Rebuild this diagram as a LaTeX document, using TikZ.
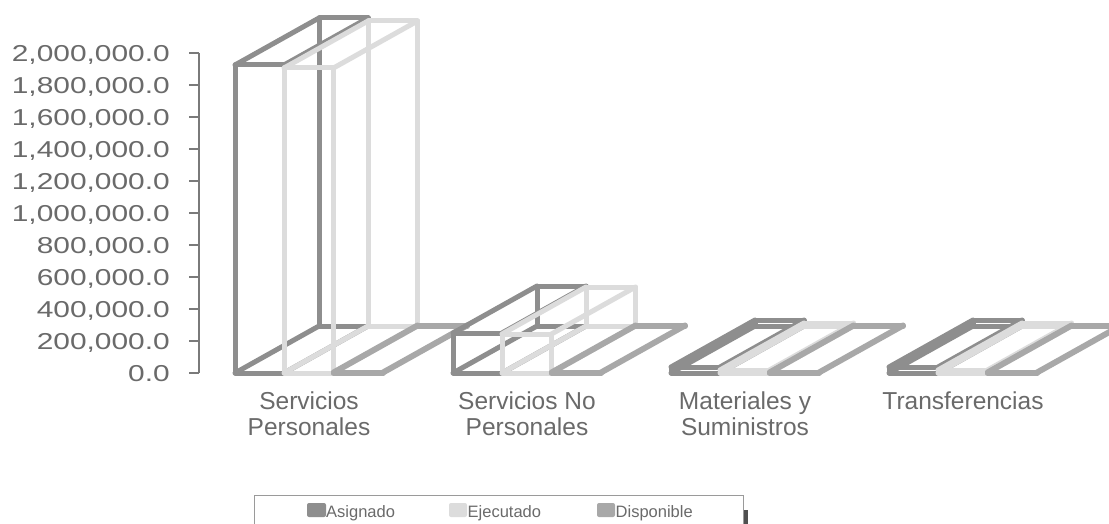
\documentclass[tikz,border=0pt]{standalone}
\usepackage{fontspec}
\setmainfont{Liberation Sans}
\newfontfamily\widefont[FakeStretch=1.30]{Liberation Sans}
\definecolor{asig}{HTML}{8E8E8E}
\definecolor{ejec}{HTML}{DCDCDC}
\definecolor{disp}{HTML}{A8A8A8}
\definecolor{axisc}{HTML}{7A7A7A}
\definecolor{txtc}{HTML}{6A6A6A}
\definecolor{legline}{HTML}{9A9A9A}
\definecolor{shadowc}{HTML}{505050}
\tikzset{
  barline/.style={line width=5pt, line join=round, line cap=round},
  axisline/.style={draw=axisc, line width=1.4pt},
  ylab/.style={anchor=base east, inner sep=0pt, text=txtc, font=\widefont\fontsize{23}{23}\selectfont},
  catlab/.style={anchor=north, inner sep=0pt, align=center, text=txtc, font=\fontsize{24.5}{26}\selectfont},
  leglab/.style={anchor=base west, inner sep=0pt, text=txtc, font=\fontsize{16.5}{17}\selectfont},
  swatch/.style={rounded corners=2pt, draw=none},
}
\newcommand\barwire[4]{%
  \pgfmathsetmacro\bwXa{#2}%
  \pgfmathsetmacro\bwXb{#2+#3}%
  \pgfmathsetmacro\bwYt{373-#4}%
  \pgfmathsetmacro\bwXc{#2+84}%
  \pgfmathsetmacro\bwXd{#2+#3+84}%
  \pgfmathsetmacro\bwYb{326-#4}%
  \draw[barline,draw=#1] (\bwXc,326) rectangle (\bwXd,\bwYb);
  \draw[barline,draw=#1] (\bwXa,373) -- (\bwXc,326) (\bwXb,373) -- (\bwXd,326)
     (\bwXa,\bwYt) -- (\bwXc,\bwYb) (\bwXb,\bwYt) -- (\bwXd,\bwYb);
  \draw[barline,draw=#1] (\bwXa,373) rectangle (\bwXb,\bwYt);
}
\begin{document}
\begin{tikzpicture}[x=1pt,y=-1pt]
\useasboundingbox[fill=white] (0,0) rectangle (1109,524);
% y axis
\draw[axisline] (199,53) -- (199,373);
\foreach \k/\lab in {0/{2,000,000.0},1/{1,800,000.0},2/{1,600,000.0},3/{1,400,000.0},4/{1,200,000.0},5/{1,000,000.0},6/{800,000.0},7/{600,000.0},8/{400,000.0},9/{200,000.0},10/{0.0}}{
  \pgfmathsetmacro\ty{53+32*\k}
  \draw[axisline] (189,\ty) -- (199,\ty);
  \node[ylab] (yl\k) at (170,{\ty+8.5}) {\lab};
}
% bars: group left edges 235, 453, 671, 889
\barwire{asig}{235}{49}{308}
\barwire{ejec}{284}{49.5}{305}
\barwire{disp}{333.5}{49.5}{1}
\barwire{asig}{453}{49}{40}
\barwire{ejec}{502}{49.5}{39}
\barwire{disp}{551.5}{49.5}{1}
\barwire{asig}{671}{49}{6}
\barwire{ejec}{720}{49.5}{3}
\barwire{disp}{769.5}{49.5}{1}
\barwire{asig}{889}{49}{6}
\barwire{ejec}{938}{49.5}{3}
\barwire{disp}{987.5}{49.5}{1}
% category labels
\node[catlab] (c1) at (309,392) {Servicios\\Personales};
\node[catlab] (c2) at (527,392) {Servicios No\\Personales};
\node[catlab] (c3) at (745,392) {Materiales y\\Suministros};
\node[catlab] (c4) at (963,392) {Transferencias};
% legend
\draw[draw=legline, line width=1pt] (254,526) -- (254,495) -- (743,495) -- (743,526);
\fill[shadowc] (743.5,510) rectangle (748,526);
\fill[swatch, fill=asig] (307,503) rectangle (326,517);
\node[leglab] (l1) at (326,517) {Asignado};
\fill[swatch, fill=ejec] (449,503) rectangle (467,517);
\node[leglab] (l2) at (467.5,517) {Ejecutado};
\fill[swatch, fill=disp] (597,503) rectangle (615,517);
\node[leglab] (l3) at (615.5,517) {Disponible};
\end{tikzpicture}
\end{document}
